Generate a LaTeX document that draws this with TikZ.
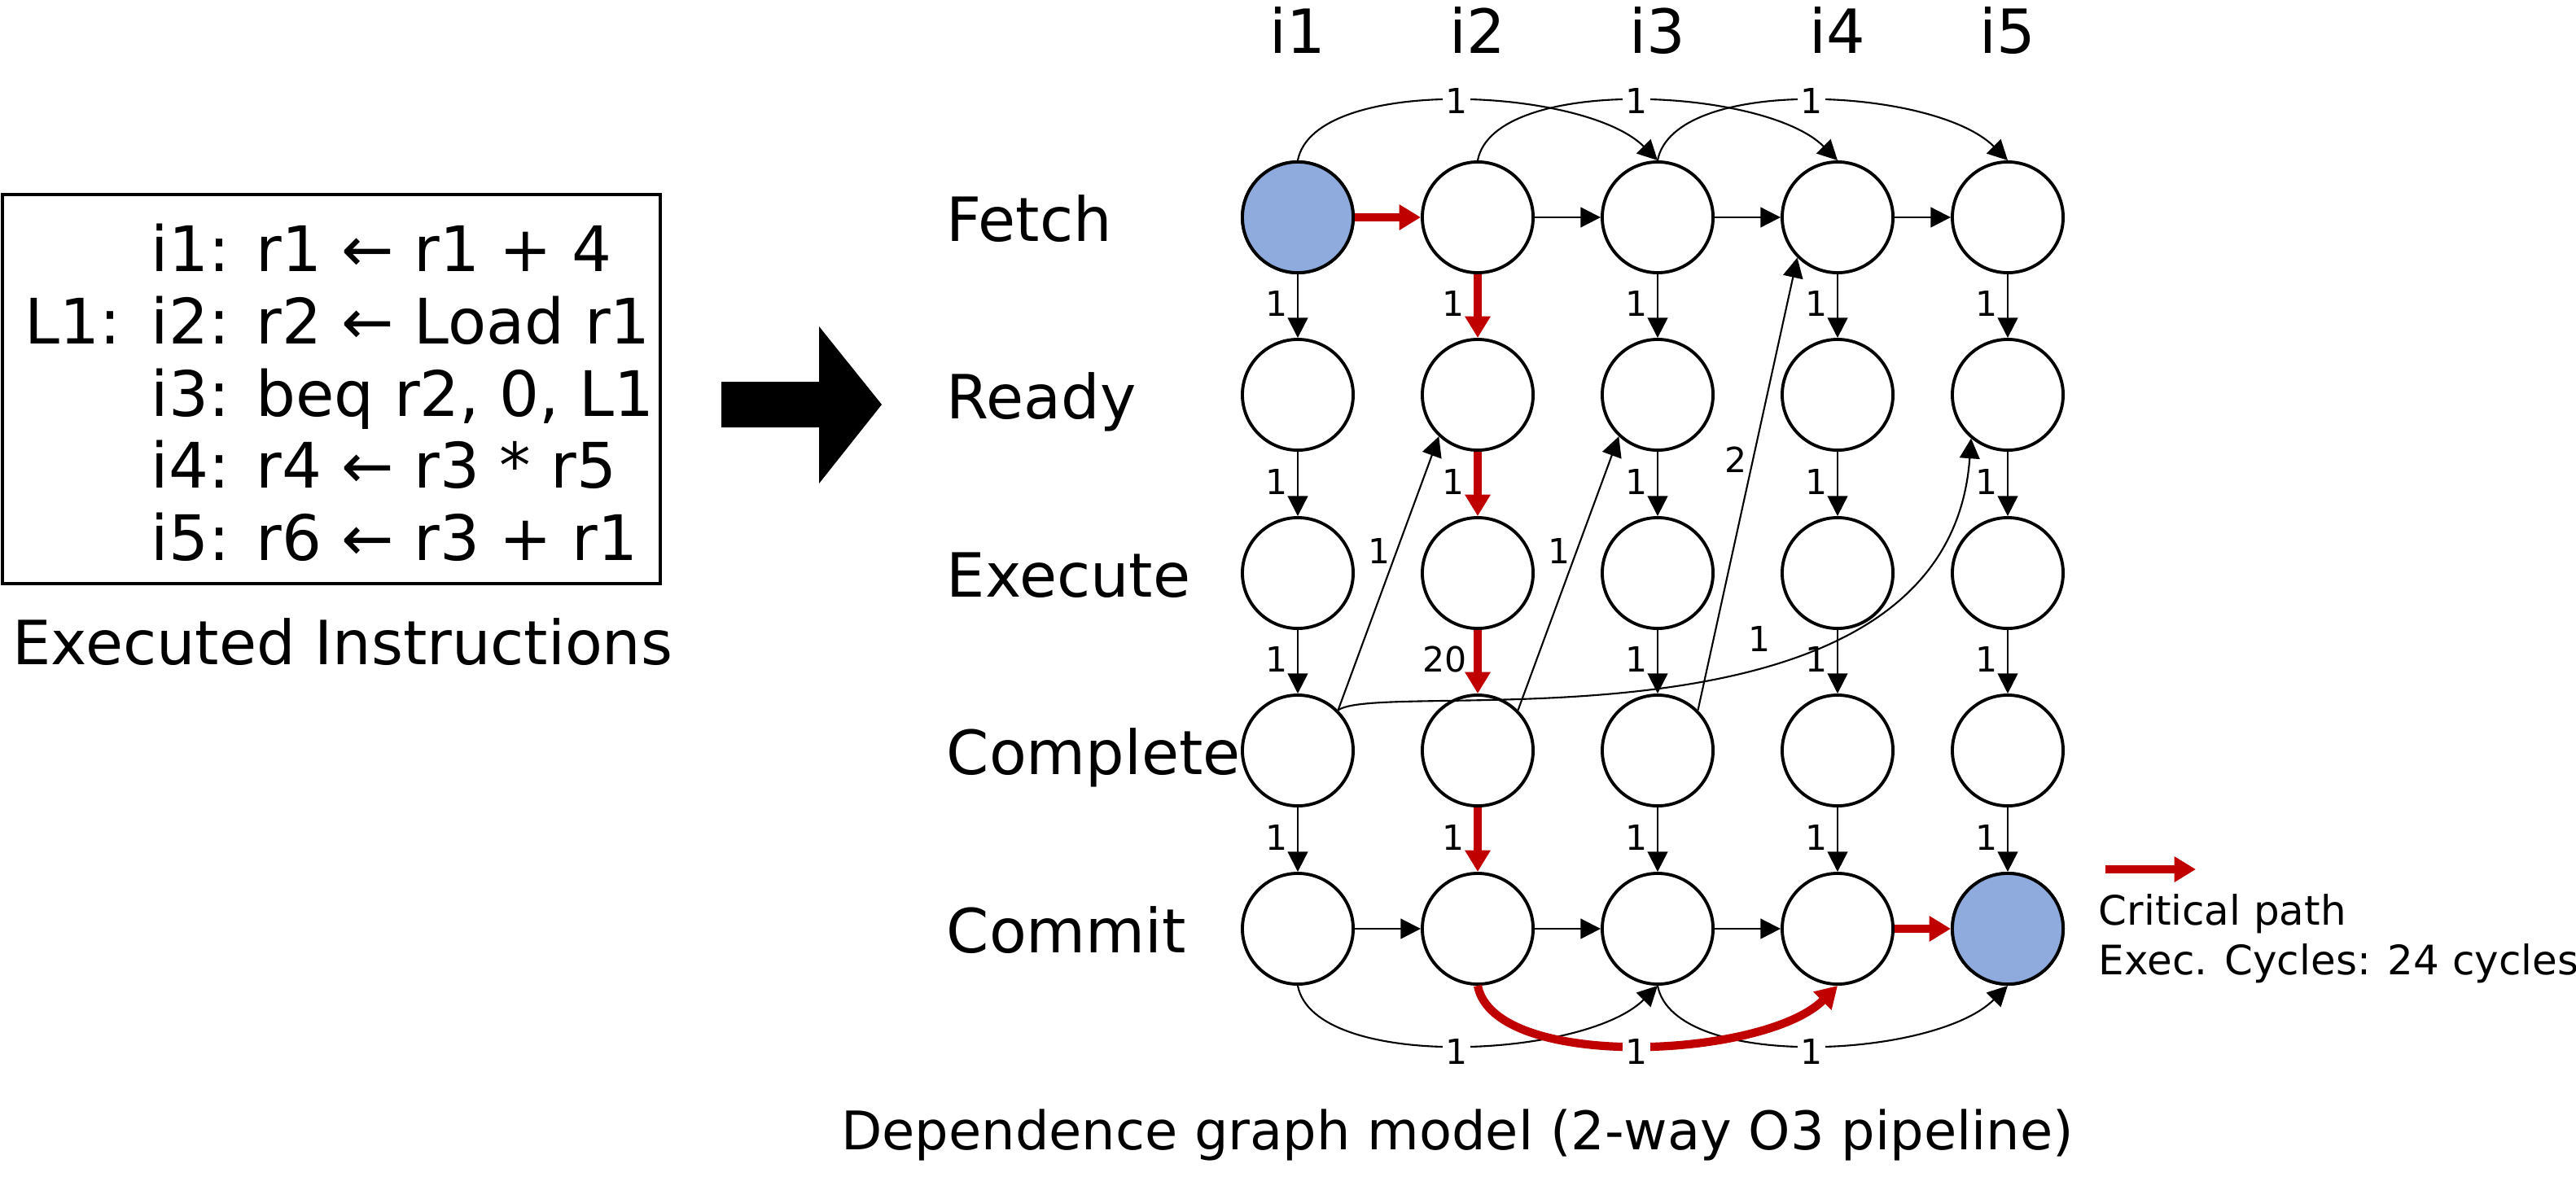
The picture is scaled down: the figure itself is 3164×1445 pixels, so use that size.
\documentclass[tikz,border=0pt]{standalone}
\usepackage{fontspec}
\setmainfont{DejaVu Sans}
\usetikzlibrary{arrows.meta}
\definecolor{critred}{HTML}{C00000}
\definecolor{nodeblue}{HTML}{8FAADC}
\begin{document}
\begin{tikzpicture}[x=0.01cm,y=-0.01cm,
  st/.style={circle, draw=black, line width=1.1pt, fill=white, minimum size=1.36cm, inner sep=0pt},
  hl/.style={st, fill=nodeblue},
  arr/.style={line width=0.6pt, -{Triangle[length=7pt,width=7pt]}},
  crit/.style={draw=critred, line width=2.9pt, -{Triangle[length=7.5pt,width=8.5pt]}},
  lab/.style={font=\fontsize{12.1}{14}\selectfont, inner sep=1pt},
  vlab/.style={lab, anchor=east, xshift=-0.08cm, yshift=0.03cm},
  wlab/.style={lab, fill=white},
  big/.style={font=\fontsize{21.3}{25}\selectfont, inner sep=0pt},
  codeline/.style={font=\fontsize{21.9}{26}\selectfont, inner sep=0pt, anchor=base west},
  rowlab/.style={big, anchor=base west},
  collab/.style={big, anchor=base},
  legtext/.style={font=\fontsize{14.2}{17}\selectfont, inner sep=0pt, anchor=base west}
]
\useasboundingbox (0,0) rectangle (3164,1445);

% ---- instruction box ----
\draw[line width=1.2pt] (3,239) rectangle (811,717);
\node[codeline] (l1) at (185,333) {i1: r1 ← r1 + 4};
\node[codeline] (lab1) at (30,422) {L1:};
\node[codeline] (l2) at (185,422) {i2: r2 ← Load r1};
\node[codeline] (l3) at (185,511) {i3: beq r2, 0, L1};
\node[codeline] (l4) at (185,599) {i4: r4 ← r3 * r5};
\node[codeline] (l5) at (185,688) {i5: r6 ← r3 + r1};
\node[big, anchor=base] (exins) at (421,816) {Executed Instructions};

% ---- big arrow ----
\fill (886,469) -- (1006,469) -- (1006,401) -- (1083,497) -- (1006,594) -- (1006,525) -- (886,525) -- cycle;

% ---- row and column labels ----
\node[rowlab] (tf) at (1162,296) {Fetch};
\node[rowlab] (tr) at (1162,514) {Ready};
\node[rowlab] (te) at (1162,733) {Execute};
\node[rowlab] (tc) at (1162,951) {Complete};
\node[rowlab] (tm) at (1162,1170) {Commit};
\foreach \x [count=\i] in {1594,1815,2036,2257,2466}
  \node[collab] (h\i) at (\x,65) {i\i};

% ---- nodes ----
\foreach \x [count=\i] in {1594,1815,2036,2257,2466} {
  \node[st] (f\i) at (\x,267) {};
  \node[st] (r\i) at (\x,485) {};
  \node[st] (e\i) at (\x,704) {};
  \node[st] (c\i) at (\x,922) {};
  \node[st] (m\i) at (\x,1141) {};
}
\node[hl] at (f1) {};
\node[hl] at (m5) {};

% ---- vertical edges ----
\foreach \i in {1,3,4,5} {
  \draw[arr] (f\i) -- node[vlab] {1} (r\i);
  \draw[arr] (r\i) -- node[vlab] {1} (e\i);
  \draw[arr] (e\i) -- node[vlab] {1} (c\i);
  \draw[arr] (c\i) -- node[vlab] {1} (m\i);
}
\draw[crit] (f2) -- node[vlab] {1} (r2);
\draw[crit] (r2) -- node[vlab] {1} (e2);
\draw[crit] (e2) -- node[vlab, xshift=0.03cm] {20} (c2);
\draw[crit] (c2) -- node[vlab] {1} (m2);

% ---- horizontal edges ----
\draw[crit] (f1) -- (f2);
\draw[arr] (f2) -- (f3);
\draw[arr] (f3) -- (f4);
\draw[arr] (f4) -- (f5);
\draw[arr] (m1) -- (m2);
\draw[arr] (m2) -- (m3);
\draw[arr] (m3) -- (m4);
\draw[crit] (m4) -- (m5);

% ---- top arcs ----
\draw[arr] (f1.north) .. controls +(20,-105) and +(-90,-90) .. node[pos=0.5, wlab] {1} (f3.north);
\draw[arr] (f2.north) .. controls +(20,-105) and +(-90,-90) .. node[pos=0.5, wlab] {1} (f4.north);
\draw[arr] (f3.north) .. controls +(20,-105) and +(-90,-90) .. node[pos=0.5, wlab] {1} (f5.north);

% ---- bottom arcs ----
\draw[arr] (m1.south) .. controls +(20,105) and +(-90,90) .. node[pos=0.5, wlab, yshift=-0.08cm] {1} (m3.south);
\draw[arr] (m3.south) .. controls +(20,105) and +(-90,90) .. node[pos=0.5, wlab, yshift=-0.08cm] {1} (m5.south);
\draw[crit] (m2.south) .. controls +(20,105) and +(-90,90) .. node[pos=0.5, wlab, yshift=-0.08cm] {1} (m4.south);

% ---- diagonal dependences ----
\draw[arr] (c1.45) -- node[pos=0.58, lab, anchor=east, xshift=-0.03cm] {1} (r2.227);
\draw[arr] (c2.45) -- node[pos=0.58, lab, anchor=east, xshift=-0.03cm] {1} (r3.227);
\draw[arr] (c3.45) -- node[pos=0.553, lab, anchor=east, xshift=-0.03cm] {2} (f4.225);
\draw[arr] (c1.45) .. controls +(55,-40) and +(-29,405) .. node[pos=0.6, lab, above=0.15cm, xshift=0.1cm] {1} (r5.230);

% ---- legend ----
\coordinate (legA) at (2586,1068);
\coordinate (legB) at (2697,1068);
\draw[crit] (legA) -- (legB);
\node[legtext] (lg1) at (2577,1136) {Critical path};
\node[legtext] (lg2) at (2577,1197) {Exec. Cycles: 24 cycles};

% ---- title ----
\node[font=\fontsize{18.6}{22}\selectfont, inner sep=0pt, anchor=base] (title) at (1790,1412) {Dependence graph model (2-way O3 pipeline)};
\end{tikzpicture}
\end{document}
